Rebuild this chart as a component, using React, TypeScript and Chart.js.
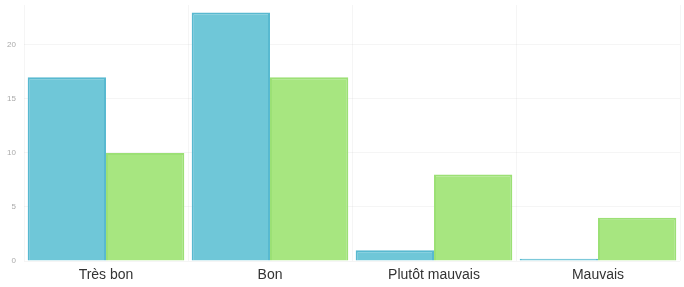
import React, { useEffect, useRef } from "react";
import { Chart, registerables } from "chart.js";

Chart.register(...registerables);

const categories = ["Très bon", "Bon", "Plutôt mauvais", "Mauvais"];
const seriesA = [17, 23, 1, 0.2];
const seriesB = [10, 17, 8, 4];
const yTicks = [0, 5, 10, 15, 20];

export default function App() {
  const ref = useRef<HTMLCanvasElement | null>(null);
  useEffect(() => {
    document.body.style.margin = "0";
    const chart = new Chart(ref.current!, {
      type: "bar",
      data: {
        labels: categories,
        datasets: [
          {
            label: "A",
            data: seriesA,
            backgroundColor: "#6fc7d8",
            borderColor: "#58b9d0",
            borderWidth: 2,
            barPercentage: 1,
            categoryPercentage: 0.955,
          },
          {
            label: "B",
            data: seriesB,
            backgroundColor: "#a7e680",
            borderColor: "#9ce075",
            borderWidth: 2,
            barPercentage: 1,
            categoryPercentage: 0.955,
          },
        ],
      },
      options: {
        animation: false,
        responsive: false,
        layout: { padding: { top: 5, right: 4, left: 0, bottom: 0 } },
        plugins: { legend: { display: false }, tooltip: { enabled: false } },
        scales: {
          x: {
            grid: { color: "rgba(0,0,0,0.04)", drawTicks: false, offset: true },
            border: { display: false },
            afterFit: (axis: any) => {
              axis.height = 26;
            },
            ticks: {
              color: "#333",
              font: { family: "Liberation Sans, Arial, sans-serif", size: 14 },
              padding: 6,
            },
          },
          y: {
            min: 0,
            max: 23.7,
            afterBuildTicks: (axis: any) => {
              axis.ticks = yTicks.map((v) => ({ value: v }));
            },
            afterFit: (axis: any) => {
              axis.width = 24;
              axis.paddingTop = 0;
            },
            grid: { color: "rgba(0,0,0,0.04)", drawTicks: false },
            border: { display: false },
            ticks: {
              color: "#aaa",
              font: { family: "Liberation Sans, Arial, sans-serif", size: 8 },
              padding: 8,
            },
          },
        },
      },
    });
    return () => chart.destroy();
  }, []);
  return <canvas ref={ref} width={684} height={287} style={{ display: "block" }} />;
}
